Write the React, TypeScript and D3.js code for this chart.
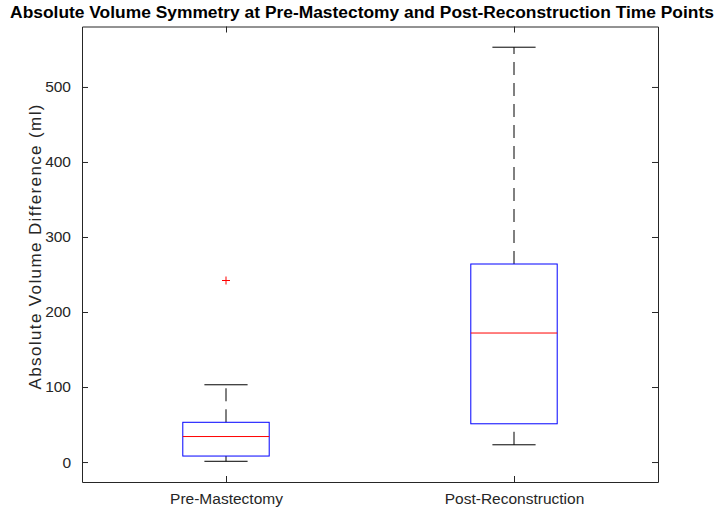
import React, { useEffect, useRef } from 'react';
import * as d3 from 'd3';

const categories = ['Pre-Mastectomy', 'Post-Reconstruction'];
const lowerWhisker = [1, 23];
const q1 = [8, 51];
const median = [34, 172];
const q3 = [53, 264];
const upperWhisker = [103, 553];
const outliers: number[][] = [[242], []];
const yTicks = [0, 100, 200, 300, 400, 500];

const App: React.FC = () => {
  const svgRef = useRef<SVGSVGElement>(null);

  useEffect(() => {
    if (!svgRef.current) return;
    const width = 718;
    const height = 511;
    const margin = { top: 26.5, right: 60, bottom: 29, left: 82 };
    const font = "'Liberation Sans', Arial, sans-serif";
    const axisColor = '#262626';

    const svg = d3.select(svgRef.current);
    svg.selectAll('*').remove();

    // matlab style limits: data range padded by 5%
    const lo = d3.min(lowerWhisker) as number;
    const hi = d3.max(upperWhisker) as number;
    const pad = (hi - lo) * 0.05;

    const x = d3.scaleLinear()
      .domain([0.5, categories.length + 0.5])
      .range([margin.left, width - margin.right]);

    const y = d3.scaleLinear()
      .domain([lo - pad, hi + pad])
      .range([height - margin.bottom, margin.top]);

    const boxW = x(1.15) - x(0.85);
    const capW = boxW / 2;

    const g = svg.append('g');

    categories.forEach((c, i) => {
      const cx = x(i + 1);
      // whiskers
      g.append('line')
        .attr('x1', cx).attr('x2', cx)
        .attr('y1', y(q3[i])).attr('y2', y(upperWhisker[i]))
        .attr('stroke', '#000').attr('stroke-width', 1)
        .attr('stroke-dasharray', '13,8');
      g.append('line')
        .attr('x1', cx).attr('x2', cx)
        .attr('y1', y(lowerWhisker[i])).attr('y2', y(q1[i]))
        .attr('stroke', '#000').attr('stroke-width', 1)
        .attr('stroke-dasharray', '13,8');
      // caps
      [upperWhisker[i], lowerWhisker[i]].forEach(v => {
        g.append('line')
          .attr('x1', cx - capW / 2).attr('x2', cx + capW / 2)
          .attr('y1', y(v)).attr('y2', y(v))
          .attr('stroke', '#000').attr('stroke-width', 1);
      });
      // box
      g.append('rect')
        .attr('x', cx - boxW / 2)
        .attr('y', y(q3[i]))
        .attr('width', boxW)
        .attr('height', y(q1[i]) - y(q3[i]))
        .attr('fill', 'none')
        .attr('stroke', '#0000ff')
        .attr('stroke-width', 1);
      g.append('line')
        .attr('x1', cx - boxW / 2).attr('x2', cx + boxW / 2)
        .attr('y1', y(median[i])).attr('y2', y(median[i]))
        .attr('stroke', '#ff0000').attr('stroke-width', 1);
      // outliers
      outliers[i].forEach(v => {
        const py = y(v);
        g.append('path')
          .attr('d', `M${cx - 4},${py}H${cx + 4}M${cx},${py - 4}V${py + 4}`)
          .attr('stroke', '#ff0000').attr('stroke-width', 1);
      });
    });

    // axes (inward ticks, box on)
    const left = d3.axisLeft(y).tickValues(yTicks).tickSizeInner(-6).tickSizeOuter(0).tickPadding(11);
    const right = d3.axisRight(y).tickValues(yTicks).tickSizeInner(-6).tickSizeOuter(0).tickFormat(() => '');
    const bottom = d3.axisBottom(x).tickValues([1, 2]).tickSizeInner(-6).tickSizeOuter(0).tickPadding(11)
      .tickFormat((d) => categories[(d as number) - 1]);
    const top = d3.axisTop(x).tickValues([1, 2]).tickSizeInner(-6).tickSizeOuter(0).tickFormat(() => '');

    const axes = [
      svg.append('g').attr('transform', `translate(${margin.left},0)`).call(left),
      svg.append('g').attr('transform', `translate(${width - margin.right},0)`).call(right),
      svg.append('g').attr('transform', `translate(0,${height - margin.bottom})`).call(bottom),
      svg.append('g').attr('transform', `translate(0,${margin.top})`).call(top),
    ];
    axes.forEach(a => {
      a.attr('font-family', font).attr('font-size', 15.5);
      a.selectAll('.domain').attr('stroke', axisColor);
      a.selectAll('.tick line').attr('stroke', axisColor);
      a.selectAll('.tick text').attr('fill', axisColor);
    });

    svg.append('text')
      .attr('text-anchor', 'middle')
      .attr('transform', `translate(41,247) rotate(-90)`)
      .attr('font-family', font)
      .attr('font-size', 17)
      .attr('textLength', 285)
      .attr('lengthAdjust', 'spacing')
      .attr('fill', axisColor)
      .text('Absolute Volume Difference (ml)');

    svg.append('text')
      .attr('text-anchor', 'middle')
      .attr('x', 362)
      .attr('y', 18)
      .attr('font-family', font)
      .attr('font-size', 17.4)
      .attr('font-weight', 'bold')
      .attr('fill', '#000')
      .text('Absolute Volume Symmetry at Pre-Mastectomy and Post-Reconstruction Time Points');
  }, []);

  return (
    <svg
      ref={svgRef}
      width={718}
      height={511}
      style={{ position: 'absolute', left: 0, top: 0, background: '#fff' }}
    />
  );
};

export default App;
